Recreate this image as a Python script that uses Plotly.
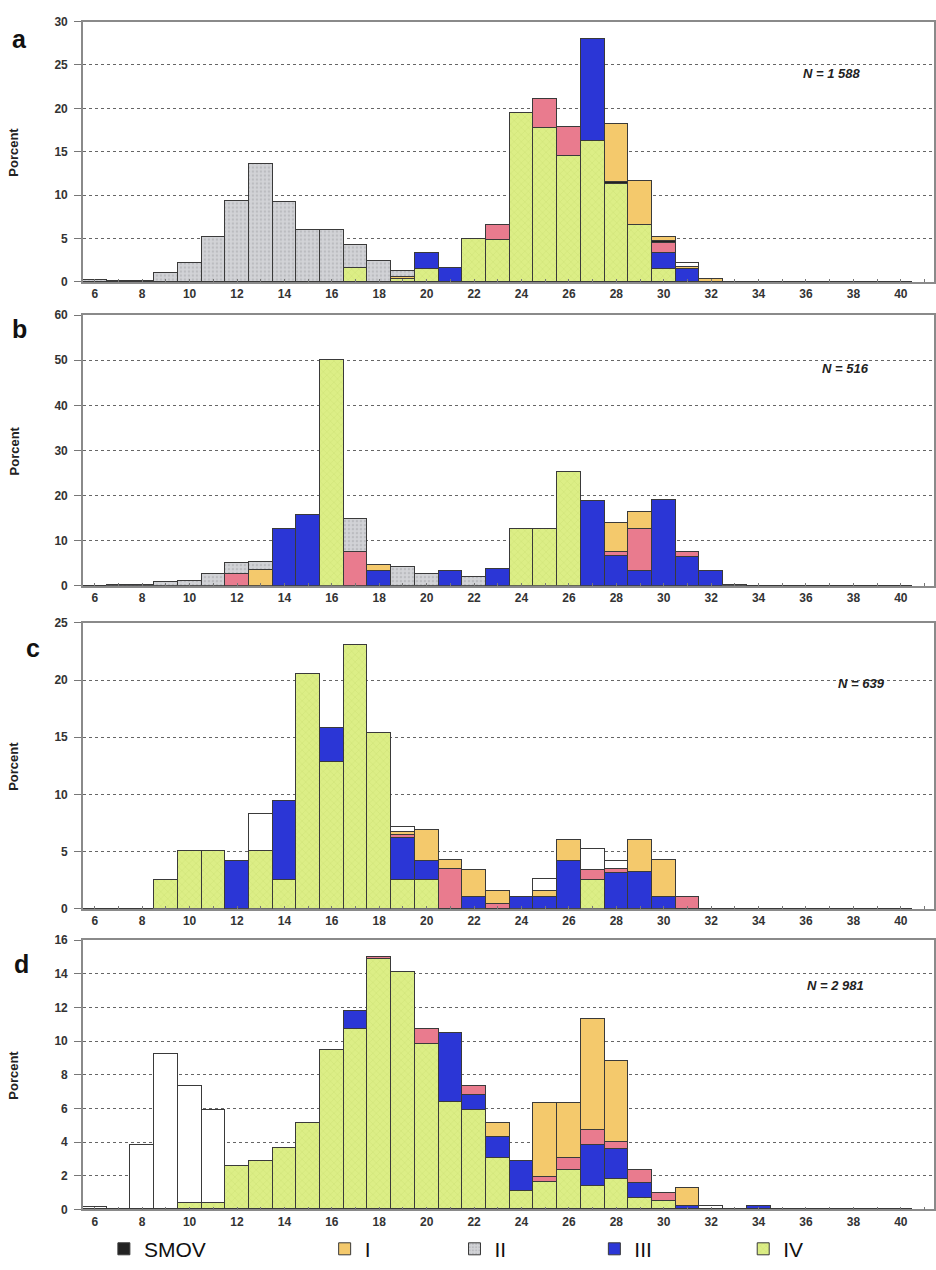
import plotly.graph_objects as go

# Length classes (cm)
bins = list(range(6, 41))


def series(values):
    """Expand a {length: percent} mapping into a list aligned with bins."""
    return [values.get(b, 0) for b in bins]


# ---- Panel a (N = 1 588) ----
a_IV = series({17: 1.7, 19: 0.4, 20: 1.55, 22: 5.0, 23: 4.9, 24: 19.5, 25: 17.8, 26: 14.6,
               27: 16.3, 28: 11.3, 29: 6.6, 30: 1.55})
a_III = series({20: 1.9, 21: 1.65, 27: 11.7, 30: 1.85, 31: 1.5})
a_pink = series({23: 1.7, 25: 3.3, 26: 3.35, 30: 1.2})
a_SMOV = series({28: 0.3, 30: 0.2})
a_I = series({19: 0.2, 28: 6.7, 29: 5.1, 30: 0.4, 31: 0.3, 32: 0.45})
a_II = series({6: 0.25, 7: 0.12, 8: 0.12, 9: 1.1, 10: 2.2, 11: 5.2, 12: 9.4, 13: 13.6, 14: 9.3,
               15: 6.1, 16: 6.0, 17: 2.6, 18: 2.5, 19: 0.7})
a_white = series({31: 0.4})

# ---- Panel b (N = 516) ----
b_IV = series({16: 50.0, 24: 12.5, 25: 12.5, 26: 25.1})
b_III = series({14: 12.5, 15: 15.7, 18: 3.3, 21: 3.3, 23: 3.8, 27: 18.8, 28: 6.5, 29: 3.2,
                30: 18.9, 31: 6.3, 32: 3.3})
b_pink = series({12: 2.5, 17: 7.5, 28: 1.0, 29: 9.3, 31: 1.2})
b_SMOV = series({})
b_I = series({13: 3.5, 18: 1.4, 28: 6.4, 29: 3.85})
b_II = series({7: 0.1, 8: 0.1, 9: 0.9, 10: 1.1, 11: 2.55, 12: 2.45, 13: 1.7, 17: 7.4, 19: 4.1,
               20: 2.55, 22: 2.0, 33: 0.2})
b_white = series({})

# ---- Panel c (N = 639) ----
c_IV = series({9: 2.5, 10: 5.1, 11: 5.1, 13: 5.1, 14: 2.5, 15: 20.5, 16: 12.8, 17: 23.1,
               18: 15.4, 19: 2.5, 20: 2.5, 27: 2.5})
c_III = series({12: 4.2, 14: 6.95, 16: 3.0, 19: 3.7, 20: 1.7, 22: 1.05, 24: 1.0, 25: 1.0,
                26: 4.2, 28: 3.1, 29: 3.2, 30: 1.0})
c_pink = series({19: 0.3, 21: 3.5, 23: 0.45, 27: 0.9, 28: 0.4, 31: 1.05})
c_SMOV = series({})
c_I = series({19: 0.2, 20: 2.7, 21: 0.8, 22: 2.35, 23: 1.15, 25: 0.55, 26: 1.8, 29: 2.8,
              30: 3.3})
c_II = series({})
c_white = series({13: 3.2, 19: 0.5, 25: 1.1, 27: 1.8, 28: 0.65})

# ---- Panel d (N = 2 981) ----
d_IV = series({10: 0.4, 11: 0.4, 12: 2.6, 13: 2.85, 14: 3.65, 15: 5.1, 16: 9.45, 17: 10.7,
               18: 14.85, 19: 14.1, 20: 9.8, 21: 6.4, 22: 5.9, 23: 3.05, 24: 1.1, 25: 1.6,
               26: 2.35, 27: 1.4, 28: 1.8, 29: 0.7, 30: 0.5})
d_III = series({17: 1.1, 21: 4.1, 22: 0.9, 23: 1.25, 24: 1.8, 27: 2.4, 28: 1.8, 29: 0.85,
                31: 0.2, 34: 0.2})
d_pink = series({18: 0.15, 20: 0.9, 22: 0.5, 25: 0.3, 26: 0.7, 27: 0.9, 28: 0.4, 29: 0.8,
                 30: 0.5})
d_SMOV = series({})
d_I = series({23: 0.8, 25: 4.4, 26: 3.25, 27: 6.6, 28: 4.8, 31: 1.05})
d_II = series({})
d_white = series({6: 0.15, 8: 3.8, 9: 9.2, 10: 6.9, 11: 5.5, 32: 0.2})

panels = [
    dict(letter="a", N="N = 1 588", ymax=30, dtick=5,
         data=[a_IV, a_III, a_pink, a_SMOV, a_I, a_II, a_white]),
    dict(letter="b", N="N = 516", ymax=60, dtick=10,
         data=[b_IV, b_III, b_pink, b_SMOV, b_I, b_II, b_white]),
    dict(letter="c", N="N = 639", ymax=25, dtick=5,
         data=[c_IV, c_III, c_pink, c_SMOV, c_I, c_II, c_white]),
    dict(letter="d", N="N = 2 981", ymax=16, dtick=2,
         data=[d_IV, d_III, d_pink, d_SMOV, d_I, d_II, d_white]),
]

# Stack order, bottom to top
stages = [
    dict(name="IV", color="#dcee86", pattern=dict(shape="x", fgcolor="#b7cc5c", size=5, solidity=0.15), legend="legend5"),
    dict(name="III", color="#2b36d6", pattern=None, legend="legend4"),
    dict(name="V", color="#e97b8e", pattern=None, legend=None),
    dict(name="SMOV", color="#222222", pattern=None, legend="legend"),
    dict(name="I", color="#f4c96c", pattern=None, legend="legend2"),
    dict(name="II", color="#d2d3d7", pattern=dict(shape=".", fgcolor="#a4a4a8", size=4, solidity=0.3), legend="legend3"),
    dict(name="Indet.", color="#ffffff", pattern=None, legend=None),
]

W, H = 936, 1270


def px(x):
    return x / W


def py(y):
    return 1 - y / H


# plot-area pixel extents: (top, zero line)
frames = [(14.7, 278.7), (312.3, 586.7), (624.3, 914.0), (945.7, 1218.7)]
x_left, x_right = 83, 935
letter_pos = [(20, 32), (20, 326), (33, 650), (22, 970)]
n_pos = [(833, 67), (846, 366), (862, 686), (836, 992)]

fig = go.Figure()
tick_font = dict(family="Liberation Sans", size=12, color="#333333", weight="bold")

annotations = []
layout_axes = {}
for i, (p, (top, bot)) in enumerate(zip(panels, frames)):
    k = "" if i == 0 else str(i + 1)
    xa, ya = "x" + k, "y" + k
    for s, vals in zip(stages, p["data"]):
        show = i == 0 and s["legend"] is not None
        marker = dict(color=s["color"], line=dict(color="#3a3a3a", width=1))
        if s["pattern"]:
            marker["pattern"] = dict(bgcolor=s["color"], **s["pattern"])
        tr = go.Bar(x=bins, y=vals, name=s["name"], xaxis=xa, yaxis=ya, width=1.0,
                    marker=marker, showlegend=show, hoverinfo="x+y+name")
        if show:
            tr.legend = s["legend"]
        fig.add_trace(tr)

    layout_axes["xaxis" + k] = dict(
        domain=[px(x_left), px(x_right)], anchor=ya, range=[5.5, 41.4],
        tickvals=bins + [41], ticktext=[str(b) if b % 2 == 0 else "" for b in bins] + [""],
        ticks="inside", ticklen=3, tickcolor="#777", showgrid=False,
        showline=True, linecolor="#8a8a8a", linewidth=1.5, mirror=True,
        tickfont=tick_font, zeroline=False)
    layout_axes["yaxis" + k] = dict(
        domain=[py(bot), py(top)], anchor=xa, range=[0, p["ymax"]], dtick=p["dtick"],
        ticks="outside", ticklen=7, tickcolor="#777", showgrid=True, ticklabelstandoff=4,
        gridcolor="#666666", griddash="3px,3px", gridwidth=1,
        showline=True, linecolor="#8a8a8a", linewidth=1.5, mirror=True,
        tickfont=tick_font, zeroline=False)

    lx, ly = letter_pos[i]
    annotations.append(dict(text="<b>%s</b>" % p["letter"], x=px(lx), y=py(ly),
                            xref="paper", yref="paper", showarrow=False,
                            xanchor="center", yanchor="middle",
                            font=dict(family="Liberation Sans", size=25, color="#111")))
    annotations.append(dict(text="<b>Porcent</b>", x=px(14), y=py((top + bot) / 2),
                            xref="paper", yref="paper", showarrow=False, textangle=-90,
                            xanchor="center", yanchor="middle",
                            font=dict(family="Liberation Sans", size=13, color="#222")))
    nx, ny = n_pos[i]
    annotations.append(dict(text="<b><i>%s</i></b>" % p["N"], x=px(nx), y=py(ny),
                            xref="paper", yref="paper", showarrow=False,
                            xanchor="center", yanchor="middle",
                            font=dict(family="Liberation Sans", size=13, color="#222")))

legend_common = dict(orientation="h", yanchor="middle", y=py(1259), xanchor="left",
                     bgcolor="rgba(0,0,0,0)", font=dict(family="Liberation Sans", size=21, color="#111"),
                     itemwidth=30)

fig.update_layout(
    width=W, height=H, margin=dict(l=0, r=0, t=0, b=0),
    paper_bgcolor="white", plot_bgcolor="white", barmode="stack", bargap=0,
    annotations=annotations,
    legend=dict(legend_common, x=px(104)),
    legend2=dict(legend_common, x=px(325)),
    legend3=dict(legend_common, x=px(455)),
    legend4=dict(legend_common, x=px(595)),
    legend5=dict(legend_common, x=px(744)),
    **layout_axes,
)

fig.write_html("out.html")
